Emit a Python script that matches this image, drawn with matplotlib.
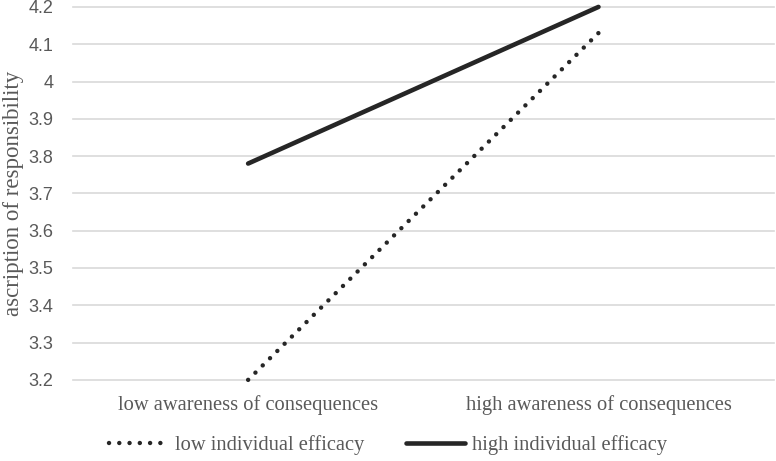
import matplotlib.pyplot as plt

categories = ["low awareness of consequences", "high awareness of consequences"]
low_efficacy = [3.20, 4.13]
high_efficacy = [3.78, 4.20]
yticks = [3.2, 3.3, 3.4, 3.5, 3.6, 3.7, 3.8, 3.9, 4.0, 4.1, 4.2]
ytick_labels = ["3.2", "3.3", "3.4", "3.5", "3.6", "3.7", "3.8", "3.9", "4", "4.1", "4.2"]

serif = ["Liberation Serif", "DejaVu Serif"]
sans = ["Liberation Sans", "DejaVu Sans"]
gray = "#595959"

fig = plt.figure(figsize=(7.76, 4.61), dpi=100)
ax = fig.add_axes([0.094, 0.176, 0.903, 0.809])

x = [0, 1]
ax.plot(x, low_efficacy, color="#262626", lw=3.2, linestyle=(0, (0.01, 2.3)),
        dash_capstyle="round", clip_on=False, label="low individual efficacy")
ax.plot(x, high_efficacy, color="#262626", lw=3.3, solid_capstyle="round",
        clip_on=False, label="high individual efficacy")

ax.set_xlim(-0.5, 1.5)
ax.set_ylim(3.2, 4.2)
ax.set_yticks(yticks)
ax.set_yticklabels(ytick_labels, family=sans, fontsize=13, color=gray)
ax.set_xticks(x)
ax.set_xticklabels(categories, family=serif, fontsize=14.8, color=gray)
ax.tick_params(axis="y", length=0, pad=14)
ax.tick_params(axis="x", length=0, pad=11)
ax.grid(axis="y", color="#d9d9d9", lw=1.2)
for gl in ax.get_ygridlines():
    gl.set_clip_on(False)
ax.set_axisbelow(True)
for s in ax.spines.values():
    s.set_visible(False)

fig.text(0.017, 0.58, "ascription of responsibility", rotation=90, family=serif,
         fontsize=16.5, color=gray, ha="center", va="center")

fig.legend(loc="center", bbox_to_anchor=(0.5, 1 - 445 / 461), ncol=2,
           frameon=False, prop={"family": serif, "size": 14.8}, labelcolor=gray,
           handlelength=2.9, handletextpad=0.35, columnspacing=2.0)

fig.savefig("out.png", dpi=100)
